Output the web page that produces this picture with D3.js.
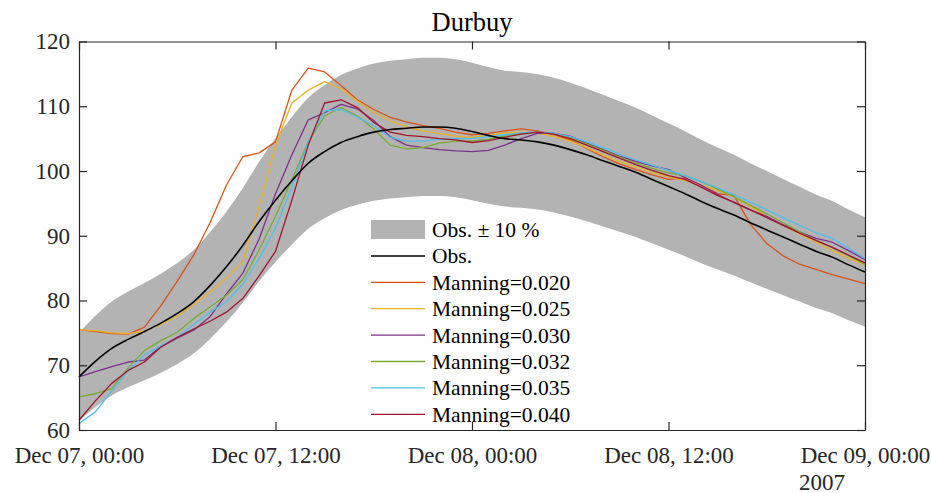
<!DOCTYPE html>
<html>
<head>
<meta charset="utf-8">
<script src="https://cdn.jsdelivr.net/npm/d3@7"></script>
<style>
  html, body { margin: 0; padding: 0; background: #fff; }
  svg { display: block; }
</style>
</head>
<body>
<svg id="chart" width="931" height="493"></svg>
<script>
// ---------- data ----------
const chartTitle = "Durbuy";
const startTime = "2007-12-07T00:00:00Z";
const hours = [0,1,2,3,4,5,6,7,8,9,10,11,12,13,14,15,16,17,18,19,20,21,22,23,24,
               25,26,27,28,29,30,31,32,33,34,35,36,37,38,39,40,41,42,43,44,45,46,47,48];
const obs = [68.2,70.6,72.6,74.0,75.2,76.5,78.0,79.8,82.3,85.2,88.5,92.2,95.5,98.5,101.2,103.0,104.4,105.3,106.0,106.4,106.6,106.8,106.8,106.6,106.1,
             105.5,105.0,104.8,104.5,104.0,103.3,102.5,101.6,100.7,99.8,98.7,97.6,96.5,95.3,94.2,93.2,92.0,90.9,89.8,88.7,87.6,86.7,85.5,84.4];
const bandPct = 10;
const m020 = [75.5,75.2,74.9,74.8,75.9,79.2,83.0,87.0,92.0,97.8,102.2,102.8,104.5,112.5,115.9,115.3,113.2,111.0,109.5,108.3,107.6,107.0,106.6,106.0,105.6,
              105.8,106.2,106.5,106.2,105.6,104.8,103.5,102.2,101.1,100.2,99.4,98.7,98.9,97.8,96.5,96.2,91.8,88.8,86.9,85.6,84.8,84.0,83.3,82.6];
const m025 = [75.5,75.3,75.0,74.9,75.3,76.3,77.6,79.3,81.3,83.5,86.0,94.5,104.0,110.5,112.5,113.8,112.7,110.8,109.0,107.8,106.8,106.2,105.8,105.4,105.2,
              105.5,105.9,106.0,105.9,105.3,104.6,103.6,102.5,101.5,100.6,99.8,99.1,98.5,97.8,97.0,96.0,94.5,93.0,91.6,90.3,89.0,87.7,86.5,85.5];
const m030 = [68.2,69.0,69.8,70.5,70.8,72.9,74.2,75.4,77.5,81.0,84.2,89.5,96.5,102.5,107.9,109.0,110.3,109.6,107.8,105.3,104.0,103.6,103.3,103.1,103.0,
              103.2,104.0,105.0,105.8,105.8,105.4,104.3,103.3,102.3,101.5,100.8,100.2,99.0,97.8,96.4,95.1,94.0,93.0,91.7,90.6,89.6,89.0,87.7,86.3];
const m032 = [65.1,65.6,66.4,69.6,72.3,73.8,75.1,77.2,79.0,80.8,83.2,87.8,93.0,98.6,104.5,108.5,109.8,108.5,106.5,104.0,103.4,103.6,104.3,104.6,104.6,
              104.9,105.4,105.8,106.0,105.7,105.1,104.2,103.2,102.2,101.2,100.4,99.7,99.3,98.4,97.2,96.0,94.7,93.4,92.0,90.6,89.3,88.2,86.9,85.6];
const m035 = [61.0,62.8,66.0,69.2,71.6,73.0,74.3,76.3,78.2,79.8,82.5,86.5,91.2,97.5,104.5,109.3,109.5,108.3,107.0,105.2,104.6,104.6,104.9,105.0,105.0,
              105.3,105.6,105.9,106.0,105.8,105.3,104.5,103.6,102.6,101.7,100.9,100.1,99.3,98.4,97.4,96.3,95.2,94.0,92.8,91.6,90.5,89.6,88.1,86.5];
const m040 = [61.5,64.5,67.2,69.2,70.5,72.8,74.3,75.6,76.8,78.2,80.3,83.8,87.6,95.5,104.0,110.5,111.0,109.8,107.5,106.0,105.5,105.3,105.0,104.8,104.4,
              104.7,105.2,105.7,106.0,105.7,105.0,104.0,103.0,102.0,101.0,100.1,99.3,98.7,97.5,96.2,95.2,94.0,92.8,91.6,90.4,89.3,88.2,87.0,85.8];
const seriesNames = ["Manning=0.020","Manning=0.025","Manning=0.030","Manning=0.032","Manning=0.035","Manning=0.040"];
const seriesValues = [m020, m025, m030, m032, m035, m040];
const seriesColors = ["#D95319","#EDB120","#7E2F8E","#77AC30","#4DBEEE","#A2142F"];
const xTickHours = [0, 12, 24, 36, 48];
const yTicks = [60, 70, 80, 90, 100, 110, 120];
const yDomain = [60, 120];
const yearLabel = "2007";

// ---------- layout ----------
const FONT = '"Liberation Serif", "Times New Roman", serif';
const L = 79, R = 865, T = 41.5, B = 430;
const svg = d3.select("#chart");
const t0 = new Date(startTime);
const toDate = h => new Date(t0.getTime() + h * 3600 * 1000);

const x = d3.scaleUtc().domain([toDate(0), toDate(48)]).range([L, R]);
const y = d3.scaleLinear().domain(yDomain).range([B, T]);
const fmt = d3.utcFormat("%b %d, %H:%M");

// band (Obs. ± 10 %)
const bandData = hours.map((h, i) => ({h, lo: obs[i] * (1 - bandPct / 100), hi: obs[i] * (1 + bandPct / 100)}));
svg.append("path")
  .datum(bandData)
  .attr("fill", "#b3b3b3")
  .attr("d", d3.area().x(d => x(toDate(d.h))).y0(d => y(d.lo)).y1(d => y(d.hi)).curve(d3.curveMonotoneX));

const line = d3.line().x(d => x(toDate(d[0]))).y(d => y(d[1]));

// simulations
seriesValues.forEach((vals, k) => {
  svg.append("path")
    .datum(hours.map((h, i) => [h, vals[i]]))
    .attr("fill", "none")
    .attr("stroke", seriesColors[k])
    .attr("stroke-width", 1.3)
    .attr("stroke-linejoin", "round")
    .attr("d", line);
});

// observations
svg.append("path")
  .datum(hours.map((h, i) => [h, obs[i]]))
  .attr("fill", "none")
  .attr("stroke", "#000")
  .attr("stroke-width", 1.6)
  .attr("d", d3.line().x(d => x(toDate(d[0]))).y(d => y(d[1])).curve(d3.curveMonotoneX));

// ---------- axes ----------
const tickVals = xTickHours.map(toDate);
const axisColor = "#262626";
function styleAxis(g) {
  g.selectAll("path.domain").attr("stroke", axisColor).attr("stroke-width", 1.2);
  g.selectAll(".tick line").attr("stroke", axisColor).attr("stroke-width", 1.2);
  g.selectAll("text").style("font-family", FONT).style("font-size", "23px").attr("fill", axisColor);
}
const gB = svg.append("g").attr("transform", `translate(0,${B})`)
  .call(d3.axisBottom(x).tickValues(tickVals).tickFormat(fmt).tickSizeInner(-8).tickSizeOuter(0).tickPadding(17));
styleAxis(gB);
const gT = svg.append("g").attr("transform", `translate(0,${T})`)
  .call(d3.axisTop(x).tickValues(tickVals).tickFormat("").tickSizeInner(-8).tickSizeOuter(0));
styleAxis(gT);
const gL = svg.append("g").attr("transform", `translate(${L},0)`)
  .call(d3.axisLeft(y).tickValues(yTicks).tickSizeInner(-8).tickSizeOuter(0).tickPadding(9));
styleAxis(gL);
const gR = svg.append("g").attr("transform", `translate(${R},0)`)
  .call(d3.axisRight(y).tickValues(yTicks).tickFormat("").tickSizeInner(-8).tickSizeOuter(0));
styleAxis(gR);

// year label under last tick
svg.append("text")
  .attr("x", x(toDate(48)) - 66).attr("y", 489.5)
  .style("font-family", FONT).style("font-size", "23px").attr("fill", axisColor)
  .text(yearLabel);

// title
svg.append("text")
  .attr("x", (L + R) / 2).attr("y", 31)
  .attr("text-anchor", "middle")
  .style("font-family", FONT).style("font-size", "26.5px").attr("fill", "#000")
  .text(chartTitle);

// ---------- legend ----------
const legX = 371, legW = 54, legY0 = 229.5, legStep = 26.4;
const legendItems = [{label: "Obs. \u00b1 10 %", type: "patch", color: "#b3b3b3"},
                     {label: "Obs.", type: "line", color: "#000"}]
  .concat(seriesNames.map((n, k) => ({label: n, type: "line", color: seriesColors[k]})));
const leg = svg.append("g");
legendItems.forEach((it, i) => {
  const cy = legY0 + i * legStep;
  if (it.type === "patch") {
    leg.append("rect").attr("x", legX).attr("y", cy - 9.5).attr("width", legW).attr("height", 19).attr("fill", it.color);
  } else {
    leg.append("line").attr("x1", legX).attr("x2", legX + legW).attr("y1", cy).attr("y2", cy)
      .attr("stroke", it.color).attr("stroke-width", it.color === "#000" ? 1.5 : 1.3);
  }
  leg.append("text").attr("x", legX + legW + 7).attr("y", cy + 7.5)
    .style("font-family", FONT).style("font-size", "21.5px").attr("fill", "#000").text(it.label);
});
</script>
</body>
</html>
